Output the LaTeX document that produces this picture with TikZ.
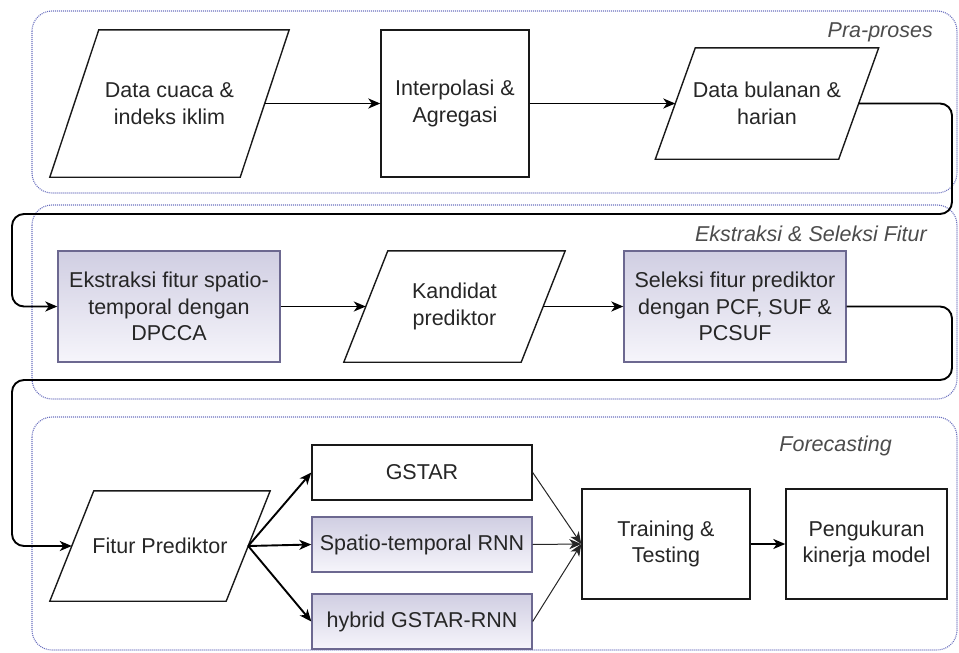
\documentclass[tikz,border=0pt]{standalone}
\usepackage{fontspec}
\setmainfont{Liberation Sans}
\usetikzlibrary{arrows.meta}

\definecolor{txt}{HTML}{262626}
\definecolor{grp}{HTML}{6A70BE}
\definecolor{lavtop}{HTML}{D0CEE2}
\definecolor{lavbot}{HTML}{F6F5FB}
\definecolor{lavline}{HTML}{6C6890}

\tikzset{
  x=1pt, y=-1pt,
  every node/.style={font=\fontsize{21.5}{26.5}\selectfont, text=txt, align=center, inner sep=0pt},
  group/.style={draw=grp, line width=1.1pt, dash pattern=on 1pt off 1pt, rounded corners=20pt},
  grouplabel/.style={font=\fontsize{21.5}{26.5}\selectfont\itshape, text=black!70, anchor=east},
  procbox/.style={draw=black!90, line width=1.4pt, fill=white},
  lavbox/.style={draw=lavline, line width=1.4pt, top color=lavtop, bottom color=lavbot},
  % text area of a slanted input/output box; its west and east anchors sit on the slanted sides
  iotext/.style={minimum height=#1},
  ioline/.style={draw=black!90, line width=1.4pt, line join=miter},
  flow/.style={draw=black, line width=1.9pt, -{Stealth[length=12pt,width=10pt,inset=3.5pt]}, rounded corners=12pt},
  thinflow/.style={draw=black!85, line width=1pt, -{Stealth[length=12pt,width=10pt,inset=3.5pt]}},
}

% slanted outline round a text node: #1 = node name, #2 = horizontal offset of the top edge
\newcommand\ioshape[2]{%
  \draw[ioline] ([xshift=-#2/2]#1.south west) -- ([xshift=#2/2]#1.north west)
    -- ([xshift=#2/2]#1.north east) -- ([xshift=-#2/2]#1.south east) -- cycle;}

\begin{document}
\begin{tikzpicture}
\useasboundingbox (0,0) rectangle (959,653);

% stage frames
\draw[group] (32,11) rectangle (957,193);
\draw[group] (32,205) rectangle (957,399);
\draw[group] (32,417) rectangle (957,650);

\node[grouplabel] (lblpra) at (933,32) {Pra-proses};
\node[grouplabel] (lblfitur) at (927,234) {Ekstraksi \& Seleksi Fitur};
\node[grouplabel] (lblfc) at (892,446) {Forecasting};

% pre-processing
\node[minimum width=190pt, minimum height=147pt] (raw) at (169.5,103.5) {Data cuaca \&\\indeks iklim};
\ioshape{raw}{49pt}
\node[procbox, minimum width=148pt, minimum height=147pt] (interp) at (455,103.5) {Interpolasi \&\\Agregasi};
\node[minimum width=183pt, minimum height=111pt] (monthly) at (767,103.5) {Data bulanan \&\\harian};
\ioshape{monthly}{40pt}

% feature extraction and selection
\node[lavbox, minimum width=222pt, minimum height=111pt] (extract) at (169,306.5) {Ekstraksi fitur spatio-\\temporal dengan\\DPCCA};
\node[minimum width=177pt, minimum height=111pt] (cand) at (454.5,306.5) {Kandidat\\prediktor};
\ioshape{cand}{44pt}
\node[lavbox, minimum width=222pt, minimum height=111pt] (select) at (735,306.5) {Seleksi fitur prediktor\\dengan PCF, SUF \&\\PCSUF};

% forecasting
\node[minimum width=176pt, minimum height=110pt] (feat) at (160,546) {Fitur Prediktor};
\ioshape{feat}{44pt}
\node[procbox, minimum width=220pt, minimum height=55pt] (gstar) at (422,472.5) {GSTAR};
\node[lavbox, minimum width=220pt, minimum height=55pt] (rnn) at (422,544.5) {Spatio-temporal RNN};
\node[lavbox, minimum width=220pt, minimum height=55pt] (hybrid) at (422,621.5) {hybrid GSTAR-RNN};
\node[procbox, minimum width=168pt, minimum height=110pt] (train) at (666,544) {Training \&\\Testing};
\node[procbox, minimum width=161pt, minimum height=110pt] (eval) at (866.5,544) {Pengukuran\\kinerja model};

% connectors
\draw[flow] (raw.east) -- (interp.west);
\draw[flow] (interp.east) -- (monthly.west);
\draw[flow] (monthly.east) -- (952,103.5) -- (952,214) -- (12,214) -- (12,306.5) -- (extract.west);
\draw[flow] (extract.east) -- (cand.west);
\draw[flow] (cand.east) -- (select.west);
\draw[flow] (select.east) -- (952,306.5) -- (952,380) -- (12,380) -- (12,546) -- (feat.west);
\draw[flow] (feat.east) -- (gstar.west);
\draw[flow] (feat.east) -- (rnn.west);
\draw[flow] (feat.east) -- (hybrid.west);
\draw[thinflow] (gstar.east) -- (train.west);
\draw[thinflow] (rnn.east) -- (train.west);
\draw[thinflow] (hybrid.east) -- (train.west);
\draw[flow] (train.east) -- (eval.west);
\end{tikzpicture}
\end{document}
